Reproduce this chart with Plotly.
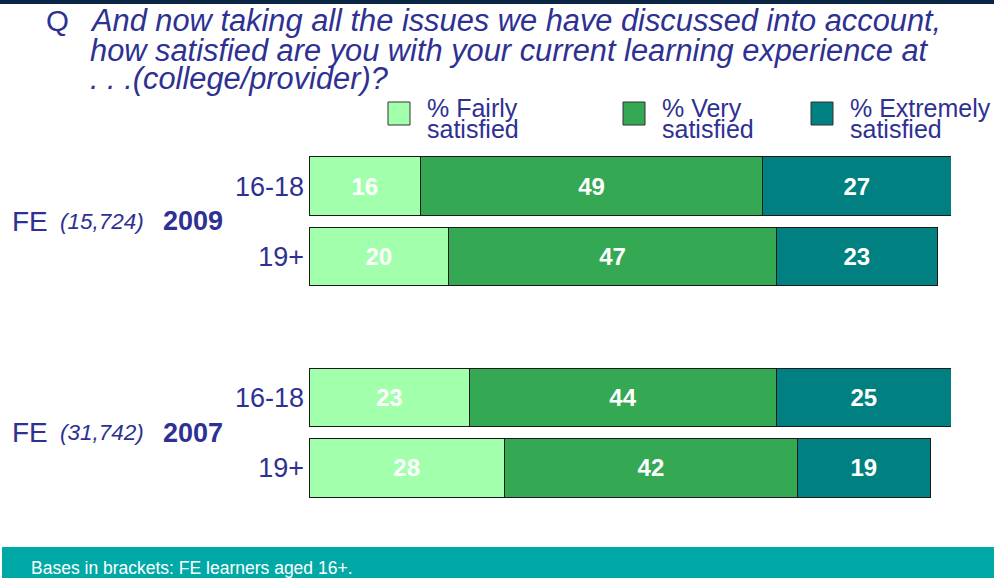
import plotly.graph_objects as go

# ---- data ----
years = ["2009", "2009", "2007", "2007"]
ages = ["16-18", "19+", "16-18", "19+"]
fairly = [16, 20, 23, 28]
very = [49, 47, 44, 42]
extremely = [27, 23, 25, 19]
series_names = ["% Fairly<br>satisfied", "% Very<br>satisfied", "% Extremely<br>satisfied"]
group_years = ["2009", "2007"]
group_bases = ["15,724", "31,742"]
title_lines = ["And now taking all the issues we have discussed into account,",
               "how satisfied are you with your current learning experience at",
               ". . .(college/provider)?"]
footnote = "Bases in brackets: FE learners aged 16+."

# ---- style ----
W, H = 994, 578
ML, MR, MT, MB = 309, 43, 151, 75
PW, PH = W - ML - MR, H - MT - MB
NAVY = "#2E3192"
colors = ["#A2FFAC", "#34A853", "#008080"]
FONT = "Liberation Sans, Arial, sans-serif"

def px(x):
    return (x - ML) / PW

def py(y):
    return (H - MB - y) / PH

# bar positions: two groups of two bars with a blank slot between them
pos = []
slot = 0
for i, yr in enumerate(years):
    if i > 0 and yr != years[i - 1]:
        slot += 1
    pos.append(slot)
    slot += 1

fig = go.Figure()
for name, vals, col in zip(series_names, [fairly, very, extremely], colors):
    fig.add_trace(go.Bar(
        y=pos, x=vals, orientation="h", name=name,
        marker=dict(color=col, line=dict(color="#1a1a1a", width=1)),
        width=0.83, text=[str(v) for v in vals], textposition="inside",
        insidetextanchor="middle",
        textfont=dict(family=FONT, size=24, color="white", weight="bold"),
        hoverinfo="skip", showlegend=False,
    ))

ann = []
# title
ann.append(dict(text="Q", x=px(44), y=py(21), xref="paper", yref="paper",
                xanchor="left", yanchor="middle", showarrow=False,
                font=dict(family=FONT, size=29.5, color=NAVY)))
for i, line in enumerate(title_lines):
    ann.append(dict(text="<i>" + line + "</i>", x=px(88), y=py(21 + 29 * i),
                    xref="paper", yref="paper", xanchor="left", yanchor="middle",
                    showarrow=False, font=dict(family=FONT, size=30.8, color=NAVY)))

# legend (manual)
shapes = []
leg_x = [388, 623, 811]
for lx, name, col in zip(leg_x, series_names, colors):
    shapes.append(dict(type="rect", xref="paper", yref="paper",
                       x0=px(lx), x1=px(lx + 22), y0=py(125), y1=py(102),
                       fillcolor=col, line=dict(color="#333333", width=1)))
    for j, part in enumerate(name.split("<br>")):
        ann.append(dict(text=part, x=px(lx + 37), y=py(108 + 21 * j),
                        xref="paper", yref="paper", xanchor="left", yanchor="middle",
                        showarrow=False, font=dict(family=FONT, size=25, color=NAVY)))

# group labels
group_pos = []
for yr in group_years:
    ps = [p for p, y in zip(pos, years) if y == yr]
    group_pos.append(sum(ps) / len(ps))
for gp, yr, base in zip(group_pos, group_years, group_bases):
    ann.append(dict(text="FE", x=px(10), y=gp, xref="paper", yref="y",
                    xanchor="left", yanchor="middle", showarrow=False,
                    font=dict(family=FONT, size=28, color=NAVY)))
    ann.append(dict(text="<i>(" + base + ")</i>", x=px(58), y=gp, xref="paper", yref="y",
                    xanchor="left", yanchor="middle", showarrow=False,
                    font=dict(family=FONT, size=22.5, color=NAVY)))
    ann.append(dict(text="<b>" + yr + "</b>", x=px(161), y=gp, xref="paper", yref="y",
                    xanchor="left", yanchor="middle", showarrow=False,
                    font=dict(family=FONT, size=27, color=NAVY)))

# footer band and top rule
shapes.append(dict(type="rect", xref="paper", yref="paper", layer="below",
                   x0=px(2), x1=px(W + 5), y0=py(H + 5), y1=py(547),
                   fillcolor="#00A9A5", line=dict(width=0)))
shapes.append(dict(type="rect", xref="paper", yref="paper", layer="below",
                   x0=px(-5), x1=px(W + 5), y0=py(4), y1=py(-5),
                   fillcolor="#0B2545", line=dict(width=0)))
ann.append(dict(text=footnote, x=px(29), y=py(568), xref="paper", yref="paper",
                xanchor="left", yanchor="middle", showarrow=False,
                font=dict(family=FONT, size=17.5, color="white")))

fig.update_layout(
    width=W, height=H, barmode="stack",
    margin=dict(l=ML, r=MR, t=MT, b=MB, pad=0),
    paper_bgcolor="white", plot_bgcolor="white",
    xaxis=dict(range=[0, 92], visible=False, fixedrange=True),
    yaxis=dict(range=[slot - 0.5, -0.5], tickvals=pos, ticktext=ages,
               showgrid=False, zeroline=False, showline=False, ticks="",
               ticklabelstandoff=4,
               tickfont=dict(family=FONT, size=27, color=NAVY), fixedrange=True),
    annotations=ann, shapes=shapes, hovermode=False, showlegend=False,
)

fig.write_html("out.html", config={"displayModeBar": False},
               post_script="document.body.style.margin='0';document.body.style.overflow='hidden';")
